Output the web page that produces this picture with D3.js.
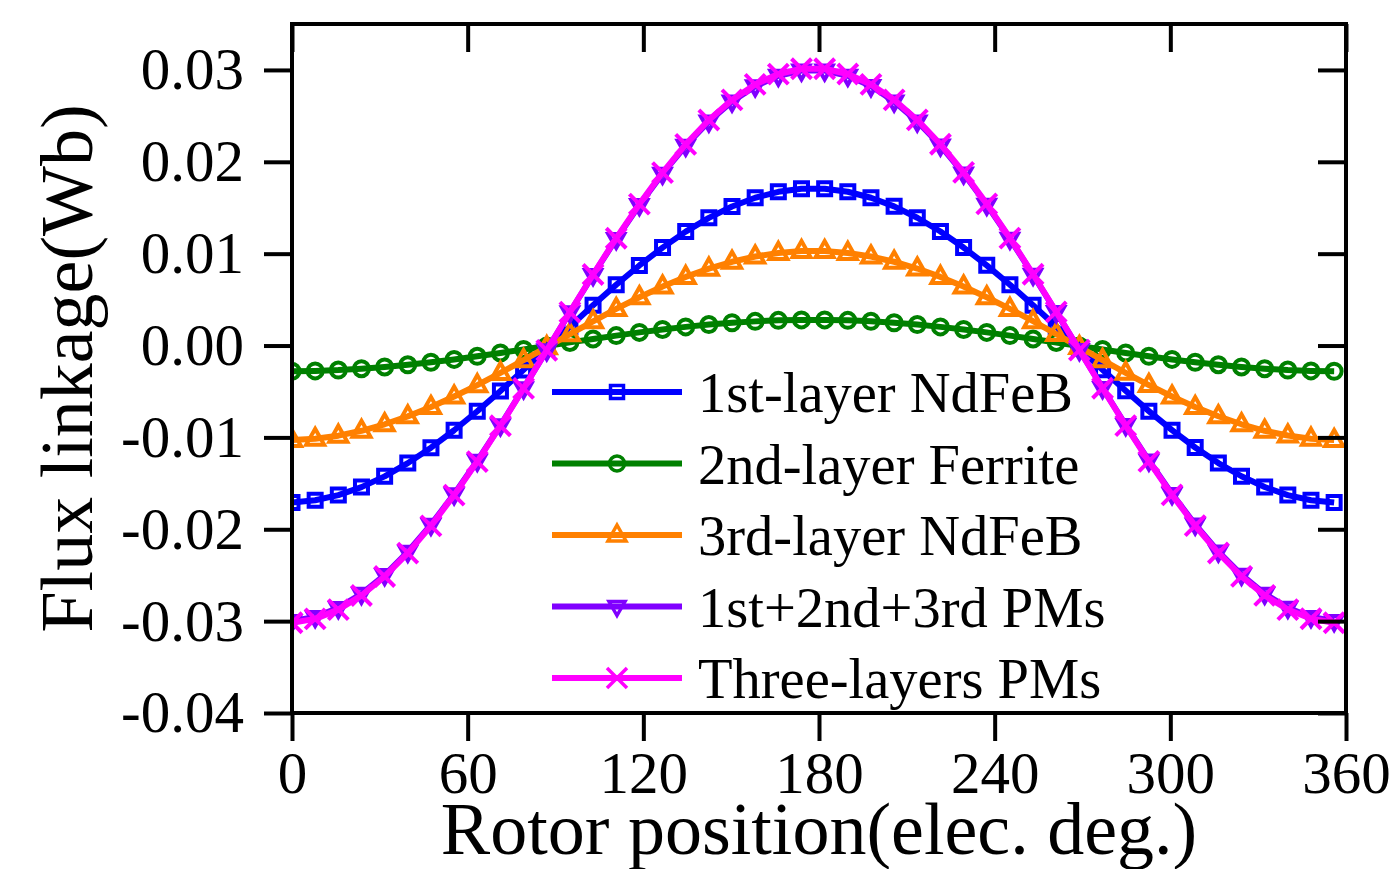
<!DOCTYPE html>
<html><head><meta charset="utf-8">
<script src="https://cdn.jsdelivr.net/npm/d3@7"></script>
<style>
body{margin:0;background:#fff;}
text{font-family:"Liberation Serif","Times New Roman",serif;fill:#000;}
</style>
</head><body>
<svg id="chart" width="1390" height="869"></svg>
<script>
// ---- data ----
const angles = [0,7.91,15.82,23.73,31.64,39.55,47.46,55.37,63.28,71.19,79.1,87.01,94.92,102.83,110.74,118.65,126.56,134.47,142.38,150.29,158.2,166.11,174.02,181.93,189.84,197.75,205.66,213.57,221.48,229.39,237.3,245.21,253.12,261.03,268.94,276.85,284.76,292.67,300.58,308.49,316.4,324.31,332.22,340.13,348.04,355.95];
const layer1NdFeB = [-0.01709,-0.01684,-0.01628,-0.01541,-0.01424,-0.01280,-0.01112,-0.00922,-0.00715,-0.00495,-0.00265,-0.00030,0.00206,0.00438,0.00661,0.00872,0.01066,0.01240,0.01390,0.01514,0.01609,0.01673,0.01706,0.01706,0.01674,0.01609,0.01515,0.01391,0.01241,0.01067,0.00873,0.00662,0.00439,0.00207,-0.00028,-0.00263,-0.00493,-0.00714,-0.00921,-0.01110,-0.01279,-0.01423,-0.01540,-0.01628,-0.01684,-0.01709];
const layer2Ferrite = [-0.00280,-0.00276,-0.00267,-0.00252,-0.00233,-0.00210,-0.00182,-0.00151,-0.00117,-0.00081,-0.00043,-0.00005,0.00034,0.00072,0.00108,0.00143,0.00175,0.00203,0.00228,0.00248,0.00263,0.00274,0.00279,0.00279,0.00274,0.00264,0.00248,0.00228,0.00203,0.00175,0.00143,0.00108,0.00072,0.00034,-0.00005,-0.00043,-0.00081,-0.00117,-0.00151,-0.00182,-0.00209,-0.00233,-0.00252,-0.00267,-0.00276,-0.00280];
const layer3NdFeB = [-0.01029,-0.01015,-0.00981,-0.00928,-0.00857,-0.00771,-0.00670,-0.00555,-0.00431,-0.00298,-0.00159,-0.00018,0.00124,0.00264,0.00398,0.00525,0.00642,0.00747,0.00837,0.00912,0.00969,0.01008,0.01028,0.01028,0.01008,0.00969,0.00912,0.00838,0.00747,0.00643,0.00526,0.00399,0.00265,0.00125,-0.00017,-0.00159,-0.00297,-0.00430,-0.00555,-0.00669,-0.00770,-0.00857,-0.00928,-0.00980,-0.01014,-0.01029];
const sumPMs = [-0.02998,-0.02955,-0.02856,-0.02703,-0.02498,-0.02245,-0.01950,-0.01618,-0.01255,-0.00868,-0.00464,-0.00052,0.00362,0.00768,0.01160,0.01529,0.01871,0.02175,0.02439,0.02656,0.02823,0.02936,0.02993,0.02993,0.02936,0.02824,0.02657,0.02440,0.02177,0.01873,0.01532,0.01162,0.00770,0.00364,-0.00049,-0.00462,-0.00865,-0.01252,-0.01615,-0.01948,-0.02243,-0.02496,-0.02702,-0.02855,-0.02955,-0.02998];
const threeLayerPMs = [-0.03018,-0.02975,-0.02875,-0.02721,-0.02514,-0.02260,-0.01963,-0.01628,-0.01263,-0.00873,-0.00467,-0.00052,0.00364,0.00773,0.01168,0.01540,0.01883,0.02189,0.02455,0.02674,0.02842,0.02955,0.03013,0.03013,0.02956,0.02842,0.02675,0.02456,0.02191,0.01885,0.01542,0.01170,0.00776,0.00366,-0.00050,-0.00465,-0.00871,-0.01261,-0.01626,-0.01961,-0.02258,-0.02513,-0.02720,-0.02874,-0.02974,-0.03018];
const seriesNames = ["1st-layer NdFeB","2nd-layer Ferrite","3rd-layer NdFeB","1st+2nd+3rd PMs","Three-layers PMs"];
const xTicks = [0,60,120,180,240,300,360];
const yTicks = [-0.04,-0.03,-0.02,-0.01,0,0.01,0.02,0.03];
const yTickLabels = ["-0.04","-0.03","-0.02","-0.01","0.00","0.01","0.02","0.03"];
const xTitle = "Rotor position(elec. deg.)";
const yTitle = "Flux linkage(Wb)";

// ---- styling ----
const colors = ["#0000ff","#008000","#ff8000","#8000ff","#ff00ff"];
const markerPaths = [
  "M-6.5,-6.5H6.5V6.5H-6.5Z",
  "M7.5,0A7.5,7.5 0 1,1 -7.5,0A7.5,7.5 0 1,1 7.5,0Z",
  "M0,-10L9,6L-9,6Z",
  "M0,9L8,-5L-8,-5Z",
  "M-10,-10L10,10M-10,10L10,-10"
];
const allSeries = [layer1NdFeB, layer2Ferrite, layer3NdFeB, sumPMs, threeLayerPMs];

const svg = d3.select("#chart");
const L = 292, R = 1346, T = 24, B = 713;
const x = d3.scaleLinear().domain([0,360]).range([L,R]);
const y = d3.scaleLinear().domain([-0.04,0.035]).range([B,T]);

svg.append("defs").append("clipPath").attr("id","clip")
  .append("rect").attr("x",L).attr("y",T).attr("width",R-L).attr("height",B-T);

const plot = svg.append("g").attr("clip-path","url(#clip)");
allSeries.forEach((vals,k)=>{
  const pts = angles.map((a,i)=>[a,vals[i]]);
  plot.append("path").datum(pts)
    .attr("fill","none").attr("stroke",colors[k]).attr("stroke-width",6)
    .attr("stroke-linejoin","round")
    .attr("d", d3.line().x(d=>x(d[0])).y(d=>y(d[1])));
  plot.append("g").selectAll("path").data(pts).join("path")
    .attr("transform",d=>`translate(${x(d[0])},${y(d[1])})`)
    .attr("d",markerPaths[k]).attr("fill","none")
    .attr("stroke",colors[k]).attr("stroke-width",4);
});

// axes
function styleAxis(g){
  g.select(".domain").remove();
  g.selectAll(".tick line").attr("stroke","#000").attr("stroke-width",4);
}
svg.append("g").attr("transform",`translate(0,${B})`)
  .call(d3.axisBottom(x).tickValues(xTicks).tickSize(28).tickPadding(10).tickFormat(d=>String(d)))
  .call(styleAxis)
  .selectAll("text").attr("font-size",59).attr("font-family","Liberation Serif").attr("dy","0.71em");
svg.append("g").attr("transform",`translate(0,${T})`)
  .call(d3.axisTop(x).tickValues(xTicks).tickSize(-28).tickFormat(""))
  .call(styleAxis);
svg.append("g").attr("transform",`translate(${L},0)`)
  .call(d3.axisLeft(y).tickValues(yTicks).tickSize(28).tickPadding(20).tickFormat((d,i)=>yTickLabels[i]))
  .call(styleAxis)
  .selectAll("text").attr("font-size",59).attr("font-family","Liberation Serif");
svg.append("g").attr("transform",`translate(${R},0)`)
  .call(d3.axisRight(y).tickValues(yTicks).tickSize(-28).tickFormat(""))
  .call(styleAxis);

svg.append("rect").attr("x",L).attr("y",T).attr("width",R-L).attr("height",B-T)
  .attr("fill","none").attr("stroke","#000").attr("stroke-width",4);

// titles
svg.append("text").attr("x",(L+R)/2).attr("y",854).attr("text-anchor","middle")
  .attr("font-size",74).text(xTitle);
svg.append("text").attr("transform",`translate(92,${(T+B)/2}) rotate(-90)`)
  .attr("text-anchor","middle").attr("font-size",74).text(yTitle);

// legend
const legY0 = 392, legDy = 71.5;
seriesNames.forEach((name,k)=>{
  const g = svg.append("g").attr("transform",`translate(0,${legY0+k*legDy})`);
  g.append("line").attr("x1",552).attr("x2",682).attr("y1",0).attr("y2",0)
    .attr("stroke",colors[k]).attr("stroke-width",6);
  g.append("path").attr("transform","translate(617,0)").attr("d",markerPaths[k])
    .attr("fill","none").attr("stroke",colors[k]).attr("stroke-width",3.5);
  g.append("text").attr("x",698).attr("y",20).attr("font-size",56.5).text(name);
});
</script>
</body></html>
